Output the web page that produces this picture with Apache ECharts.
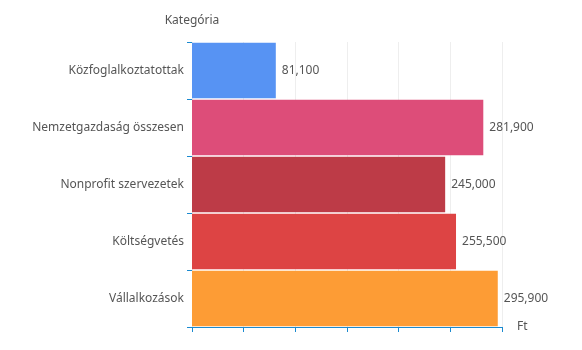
<!DOCTYPE html>
<html><head><meta charset="utf-8">
<script src="https://cdn.jsdelivr.net/npm/echarts@6/dist/echarts.min.js"></script>
<style>html,body{margin:0;padding:0;background:#fff}#c{width:582px;height:350px}</style>
</head><body><div id="c"></div>
<script>
const categories = ['Közfoglalkoztatottak','Nemzetgazdaság összesen','Nonprofit szervezetek','Költségvetés','Vállalkozások'];
const values = [81100, 281900, 245000, 255500, 295900];
const colors = ['#5793f3','#dd4d79','#bd3b47','#dd4444','#fd9c35'];
const axisColor = '#1a8ad0';
const font = 'Noto Sans, sans-serif';
const chart = echarts.init(document.getElementById('c'));
chart.setOption({
  animation: false,
  textStyle: {fontFamily: font},
  grid: {left: 192, right: 80, top: 42, bottom: 23},
  xAxis: {
    type: 'value', min: 0, max: 300000, interval: 50000,
    name: 'Ft', nameGap: 15,
    nameTextStyle: {color: '#555', fontSize: 12, fontFamily: font},
    axisLine: {show: true, lineStyle: {color: axisColor}},
    axisTick: {show: true, length: 5, lineStyle: {color: axisColor}},
    axisLabel: {show: false},
    splitLine: {show: true, lineStyle: {color: '#eeeeee'}}
  },
  yAxis: {
    type: 'category', data: categories, inverse: true,
    name: 'Kategória', nameLocation: 'start', nameGap: 15,
    nameTextStyle: {color: '#555', fontSize: 12, fontFamily: font},
    axisLine: {show: false, lineStyle: {color: axisColor}},
    axisTick: {show: true, length: 5, lineStyle: {color: axisColor}},
    axisLabel: {color: '#555', fontSize: 12, margin: 8, fontFamily: font},
    splitLine: {show: false}
  },
  series: [{
    type: 'bar',
    data: values.map((v, i) => ({value: v, itemStyle: {color: colors[i]}})),
    barCategoryGap: '3%',
    label: {
      show: true, position: 'right', distance: 6, color: '#555', fontSize: 12, fontFamily: font,
      formatter: p => p.value.toLocaleString('en-US')
    }
  }]
});
</script></body></html>
